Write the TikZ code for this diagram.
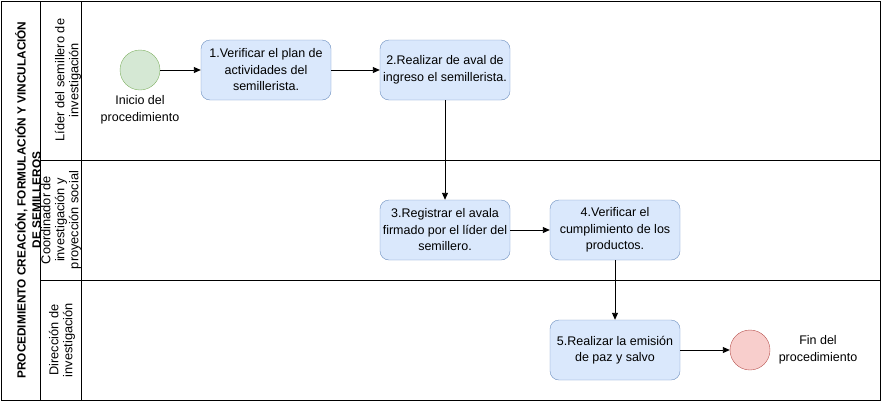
\documentclass[tikz,border=0pt]{standalone}
\usepackage{fontspec}
\setmainfont{Liberation Sans}
\usetikzlibrary{arrows.meta}
\definecolor{boxfill}{HTML}{DAE8FC}
\definecolor{boxdraw}{HTML}{6C8EBF}
\definecolor{startfill}{HTML}{D5E8D4}
\definecolor{startdraw}{HTML}{82B366}
\definecolor{endfill}{HTML}{F8CECC}
\definecolor{enddraw}{HTML}{B85450}
\tikzset{
  stepbox/.style={draw=boxdraw, fill=boxfill, rounded corners=9pt, minimum width=130pt, minimum height=60pt, align=center, inner sep=2pt, font=\fontsize{12.5}{16.5}\selectfont},
  startev/.style={circle, draw=startdraw, fill=startfill, minimum size=40pt, inner sep=0pt},
  endev/.style={circle, draw=enddraw, fill=endfill, minimum size=40pt, inner sep=0pt},
  lbl/.style={align=center, font=\fontsize{12.5}{16.5}\selectfont},
  lanelbl/.style={align=center, rotate=90, font=\fontsize{12.8}{14}\selectfont},
  flow/.style={-{Triangle[length=7pt,width=6pt]}, line width=0.9pt},
  frame/.style={line width=0.8pt, draw=black}
}
\begin{document}
\begin{tikzpicture}[x=1pt,y=-1pt]
\useasboundingbox (0,0) rectangle (882,402);
% frame
\draw[frame] (1,1) rectangle (880,400);
\draw[frame] (40,1) -- (40,400);
\draw[frame] (81,1) -- (81,400);
\draw[frame] (40,160) -- (880,160);
\draw[frame] (40,280) -- (880,280);
% title
\node[rotate=90, align=center, font=\bfseries\fontsize{11.8}{15}\selectfont] (title) at (28,200) {PROCEDIMIENTO CREACIÓN, FORMULACIÓN Y VINCULACIÓN\\DE SEMILLEROS};
% lane labels
\node[lanelbl] (lane1) at (68,80) {Líder del semillero de\\investigación};
\node[lanelbl] (lane2) at (61,220) {Coordinador de\\investigación y\\proyección social};
\node[lanelbl] (lane3) at (62,340) {Dirección de\\investigación};
% nodes
\node[startev] (start) at (140,70) {};
\node[lbl] (startlbl) at (140,110) {Inicio del\\procedimiento};
\node[stepbox] (s1) at (266,70) {1.Verificar el plan de\\actividades del\\semillerista.};
\node[stepbox] (s2) at (445,70) {2.Realizar de aval de\\ingreso el semillerista.};
\node[stepbox] (s3) at (445,230) {3.Registrar el avala\\firmado por el líder del\\semillero.};
\node[stepbox] (s4) at (615,230) {4.Verificar el\\cumplimiento de los\\productos.};
\node[stepbox] (s5) at (615,350) {5.Realizar la emisión\\de paz y salvo};
\node[endev] (fin) at (750,350) {};
\node[lbl] (finlbl) at (818,350) {Fin del\\procedimiento};
% flows
\draw[flow] (start) -- (s1);
\draw[flow] (s1) -- (s2);
\draw[flow] (s2) -- (s3);
\draw[flow] (s3) -- (s4);
\draw[flow] (s4) -- (s5);
\draw[flow] (s5) -- (fin);
\end{tikzpicture}
\end{document}
